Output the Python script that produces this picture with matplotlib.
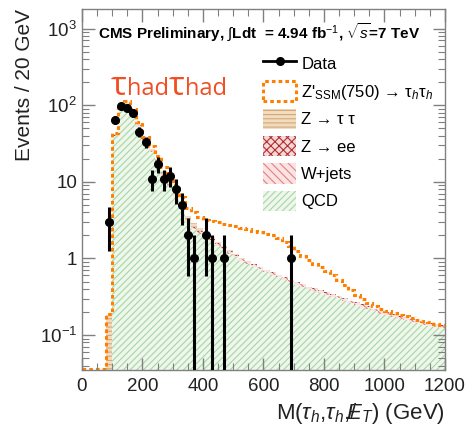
import numpy as np
import matplotlib
matplotlib.use("Agg")
import matplotlib.pyplot as plt
from matplotlib.lines import Line2D
from matplotlib.patches import Patch
from matplotlib.offsetbox import TextArea, HPacker, AnchoredOffsetbox
from matplotlib.ticker import FixedLocator, FixedFormatter, MultipleLocator, LogLocator, NullFormatter

plt.rcParams["font.family"] = ["Liberation Sans", "DejaVu Sans"]
plt.rcParams["mathtext.fontset"] = "custom"
plt.rcParams["mathtext.rm"] = "Liberation Sans"
plt.rcParams["mathtext.it"] = "Liberation Sans:italic"
plt.rcParams["mathtext.bf"] = "Liberation Sans:bold"
plt.rcParams["hatch.linewidth"] = 0.8

# 20 GeV bins from 0 to 1200 GeV
bin_edges = np.arange(0, 1201, 20)

# background expectations per bin (60 bins)
qcd = [0, 0, 0, 0, 0, 39.2, 92.4, 99.4, 78.5, 52.6,
       33.7, 24.2, 17.6, 11.9, 9.2, 6.6, 4.5, 2.9, 2.4, 2.1,
       1.84, 1.66, 1.47, 1.31, 1.16, 1.03, 0.93, 0.85, 0.78, 0.72,
       0.66, 0.615, 0.57, 0.53, 0.49, 0.455, 0.43, 0.40, 0.38, 0.355,
       0.335, 0.315, 0.30, 0.28, 0.26, 0.247, 0.233, 0.219, 0.205, 0.191,
       0.182, 0.172, 0.163, 0.157, 0.149, 0.142, 0.137, 0.132, 0.128, 0.125]
wjets = [0, 0, 0, 0, 0, 1.0, 2.0, 2.5, 2.0, 1.5,
         1.0, 0.8, 0.6, 0.45, 0.35, 0.28, 0.2, 0.15, 0.12, 0.11,
         0.1, 0.09, 0.08, 0.07, 0.065, 0.06, 0.055, 0.05, 0.045, 0.042,
         0.04, 0.037, 0.035, 0.033, 0.031, 0.029, 0.027, 0.025, 0.024, 0.022,
         0.021, 0.02, 0.019, 0.018, 0.017, 0.016, 0.015, 0.014, 0.013, 0.012,
         0.012, 0.011, 0.011, 0.01, 0.01, 0.009, 0.009, 0.009, 0.008, 0.008]
zee = [0, 0, 0, 0, 0, 0.3, 0.6, 0.6, 0.5, 0.4,
       0.3, 0.25, 0.2, 0.15, 0.12, 0.1, 0.08, 0.06, 0.05, 0.04,
       0.035, 0.03, 0.025, 0.02, 0.015, 0.015, 0.012, 0.01, 0.01, 0.009,
       0.008, 0.008, 0.007, 0.007, 0.006, 0.006, 0.006, 0.005, 0.005, 0.005,
       0.005, 0.005, 0.004, 0.004, 0.004, 0.004, 0.004, 0.003, 0.003, 0.003,
       0.003, 0.003, 0.003, 0.003, 0.002, 0.002, 0.002, 0.002, 0.002, 0.002]
ztautau = [0, 0, 0, 0, 0.18, 1.5, 3.0, 3.5, 3.0, 2.5,
           2.0, 1.8, 1.6, 1.5, 1.3, 1.0, 0.7, 0.45, 0.35, 0.25,
           0.18, 0.12, 0.08, 0.05, 0.04, 0.03, 0.02, 0.01, 0.01, 0,
           0, 0, 0, 0, 0, 0, 0, 0, 0, 0,
           0, 0, 0, 0, 0, 0, 0, 0, 0, 0,
           0, 0, 0, 0, 0, 0, 0, 0, 0, 0]
# Z'_SSM(750) signal, stacked on top of the backgrounds
zprime = [0, 0, 0, 0, 0.01, 2.0, 6.0, 7.0, 6.0, 3.0,
          2.0, 2.0, 1.5, 1.5, 1.0, 1.0, 0.8, 1.0, 1.1, 1.0,
          1.05, 1.15, 1.3, 1.4, 1.47, 1.52, 1.48, 1.48, 1.46, 1.43,
          1.39, 1.34, 1.24, 1.08, 0.92, 0.76, 0.62, 0.52, 0.44, 0.38,
          0.32, 0.26, 0.20, 0.15, 0.11, 0.065, 0.04, 0.025, 0.015, 0.01,
          0.008, 0.007, 0.006, 0.006, 0.006, 0.005, 0.004, 0.003, 0.002, 0.001]

# observed events
data_mass = [90, 110, 130, 150, 170, 190, 210, 230, 250, 270,
             290, 310, 330, 350, 370, 410, 430, 470, 690]
data_counts = [3, 64, 97, 92, 80, 45, 33, 11, 17, 11,
               12, 8, 5, 2, 1, 2, 1, 1, 1]

y_min, y_max = 0.035, 1800

fig = plt.figure(figsize=(4.72, 4.25), dpi=100)
ax = fig.add_axes([0.1737, 0.1294, 0.7691, 0.8494])

# stacked backgrounds
layers = [
    (qcd, dict(facecolor="#eef7ec", edgecolor="#a9d6a3", hatch="/////")),
    (wjets, dict(facecolor="#fbe3e3", edgecolor="#e38080", hatch="\\\\\\\\")),
    (zee, dict(facecolor="#f6d6d6", edgecolor="#b03030", hatch="xxxx")),
    (ztautau, dict(facecolor="#f1dcc0", edgecolor="#d4a878", hatch="----")),
]
bottom = np.full(len(bin_edges) - 1, 1e-4)
for vals, style in layers:
    top = bottom + np.array(vals)
    ax.stairs(top, bin_edges, baseline=bottom, fill=True, linewidth=0, **style)
    bottom = top

# signal outline on top of the stack
total = bottom + np.array(zprime)
ax.stairs(np.clip(total, y_min * 1.02, None), bin_edges, baseline=None,
          color="#ff7f00", linestyle=(0, (1.2, 1.0)), linewidth=2.2)

# data with Poisson errors
counts = np.array(data_counts, dtype=float)
ax.errorbar(data_mass, counts, yerr=np.sqrt(counts), fmt="o", color="black",
            ms=5.5, elinewidth=2.2, capsize=0, zorder=5)

ax.set_yscale("log")
ax.set_ylim(y_min, y_max)
ax.set_xlim(0, 1200)

ax.yaxis.set_major_locator(FixedLocator([0.1, 1, 10, 100, 1000]))
ax.yaxis.set_major_formatter(FixedFormatter(["$10^{-1}$", "1", "10", "$10^{2}$", "$10^{3}$"]))
ax.yaxis.set_minor_locator(LogLocator(base=10, subs=np.arange(2, 10), numticks=20))
ax.yaxis.set_minor_formatter(NullFormatter())
ax.xaxis.set_major_locator(MultipleLocator(200))
ax.xaxis.set_minor_locator(MultipleLocator(50))

for side in ax.spines.values():
    side.set_color("#808080")
    side.set_linewidth(1.0)
ax.tick_params(which="both", direction="in", top=True, right=True, colors="#808080",
               labelcolor="#222222", labelsize=13.5)
ax.tick_params(which="major", length=9, width=1.0)
ax.tick_params(which="minor", length=5, width=0.8)
ax.tick_params(axis="x", pad=6)

ax.set_xlabel(r"M($\tau_{h}$,$\tau_{h}$,$/\!\!\!E_{T}$) (GeV)", fontsize=16,
              color="#222222", loc="right")
ax.set_ylabel("Events / 20 GeV", fontsize=15, color="#222222", loc="top")

ax.text(0.045, 0.935, r"CMS Preliminary, $\int$Ldt  = 4.94 fb$^{-1}$, $\sqrt{s}$=7 TeV",
        transform=ax.transAxes, fontsize=11, fontweight="bold", va="center")

# channel label
red = "#f04e23"
parts = []
for _ in range(2):
    parts.append(TextArea("τ", textprops=dict(fontsize=24, color=red, family="Open Sans")))
    parts.append(TextArea("had", textprops=dict(fontsize=17, color=red, family="Open Sans")))
label_box = AnchoredOffsetbox(loc="lower left",
                              child=HPacker(children=parts, align="baseline", pad=0, sep=0),
                              bbox_to_anchor=(0.08, 0.74), bbox_transform=ax.transAxes,
                              frameon=False, borderpad=0, pad=0)
ax.add_artist(label_box)

handles = [
    Line2D([], [], color="black", marker="o", ms=5.5, lw=2),
    Patch(facecolor="none", edgecolor="#ff7f00", linestyle=(0, (1.2, 1.0)), linewidth=2.2),
    Patch(**layers[3][1], linewidth=0),
    Patch(**layers[2][1], linewidth=0),
    Patch(**layers[1][1], linewidth=0),
    Patch(**layers[0][1], linewidth=0),
]
labels = ["Data", "Z'$_{\\rm SSM}$(750) → τ$_{h}$τ$_{h}$",
          "Z → τ τ", "Z → ee", "W+jets", "QCD"]
ax.legend(handles, labels, loc="upper left", bbox_to_anchor=(0.48, 0.895), frameon=False,
          fontsize=12, handlelength=2.0, handleheight=1.5, labelspacing=0.42,
          handletextpad=0.3, borderaxespad=0)

fig.savefig("out.png", dpi=100)
